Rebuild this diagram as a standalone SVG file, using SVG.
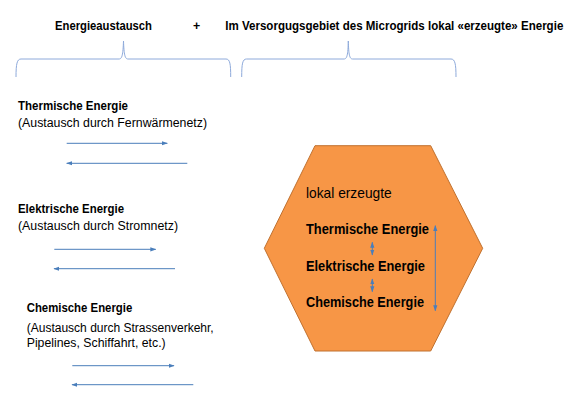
<svg xmlns="http://www.w3.org/2000/svg" width="584" height="417" viewBox="0 0 584 417">
<style>
text{font-family:"Liberation Sans",Arial,sans-serif;fill:#000}
.b{font-weight:bold}
.s{font-size:12.3px}
.h{font-size:14.3px}
.brace{fill:none;stroke:#8eaadb;stroke-width:1}
.arr{fill:none;stroke:#4a7ebb;stroke-width:1}
</style>
<defs>
<marker id="ah" viewBox="0 0 10 10" refX="9" refY="5" markerWidth="6" markerHeight="6" orient="auto-start-reverse" markerUnits="userSpaceOnUse">
<path d="M0,1.5 L10,5 L0,8.5 Z" fill="#4a7ebb"/>
</marker>
</defs>
<rect width="584" height="417" fill="#fff"/>
<g id="header">
<text class="b s" x="55" y="29.5" textLength="97" lengthAdjust="spacingAndGlyphs">Energieaustausch</text>
<text class="b s" x="193" y="29.5">+</text>
<text class="b s" x="225.3" y="29.5" textLength="338" lengthAdjust="spacingAndGlyphs">Im Versorgugsgebiet des Microgrids lokal «erzeugte» Energie</text>
</g>
<g id="braces">
<path class="brace" d="M16,77 C16,64 17,59 21,59 L119,59 C122,59 123,55 123.5,41 C124,55 125,59 128,59 L226,59 C230,59 230.7,64 230.7,77"/>
<path class="brace" d="M241.7,77 C241.7,64 242.5,59 246.5,59 L344,59 C347,59 348,55 348.3,41 C348.7,55 349.6,59 352.6,59 L451,59 C455,59 456,64 456,77"/>
</g>
<g id="thermal-exchange">
<text class="b s" x="18" y="110" textLength="110" lengthAdjust="spacingAndGlyphs">Thermische Energie</text>
<text class="s" x="18" y="126.5" textLength="189" lengthAdjust="spacingAndGlyphs">(Austausch durch Fernwärmenetz)</text>
</g>
<g id="electric-exchange">
<text class="b s" x="18" y="213.3" textLength="106" lengthAdjust="spacingAndGlyphs">Elektrische Energie</text>
<text class="s" x="18" y="229.5" textLength="160" lengthAdjust="spacingAndGlyphs">(Austausch durch Stromnetz)</text>
</g>
<g id="chemical-exchange">
<text class="b s" x="26.7" y="311.7" textLength="105.6" lengthAdjust="spacingAndGlyphs">Chemische Energie</text>
<text class="s" x="26.7" y="331.5" textLength="187" lengthAdjust="spacingAndGlyphs">(Austausch durch Strassenverkehr,</text>
<text class="s" x="26.7" y="346.5" textLength="139" lengthAdjust="spacingAndGlyphs">Pipelines, Schiffahrt, etc.)</text>
</g>
<g id="local-hexagon">
<polygon points="315,145.7 430.7,145.7 482.7,248.3 430.7,351 315,351 264.3,248.3" fill="#f79646" stroke="#c0712f" stroke-width="1"/>
<text class="h" x="306" y="197.5" textLength="85.7" lengthAdjust="spacingAndGlyphs">lokal erzeugte</text>
<text class="b h" x="306" y="234" textLength="123" lengthAdjust="spacingAndGlyphs">Thermische Energie</text>
<text class="b h" x="306" y="270.7" textLength="119" lengthAdjust="spacingAndGlyphs">Elektrische Energie</text>
<text class="b h" x="306" y="306.7" textLength="118" lengthAdjust="spacingAndGlyphs">Chemische Energie</text>
</g>
<g id="connectors">
<line class="arr" x1="66.7" y1="143.3" x2="167.3" y2="143.3" marker-end="url(#ah)"/>
<line class="arr" x1="187.3" y1="163.3" x2="66.7" y2="163.3" marker-end="url(#ah)"/>
<line class="arr" x1="54.3" y1="249.3" x2="155.7" y2="249.3" marker-end="url(#ah)"/>
<line class="arr" x1="175" y1="268.7" x2="54" y2="268.7" marker-end="url(#ah)"/>
<line class="arr" x1="72.3" y1="365.7" x2="174" y2="365.7" marker-end="url(#ah)"/>
<line class="arr" x1="193.3" y1="384.7" x2="72" y2="384.7" marker-end="url(#ah)"/>
<line class="arr" x1="372.3" y1="242.3" x2="372.3" y2="255" marker-start="url(#ah)" marker-end="url(#ah)"/>
<line class="arr" x1="372.3" y1="279" x2="372.3" y2="291.7" marker-start="url(#ah)" marker-end="url(#ah)"/>
<line class="arr" x1="435.3" y1="225.7" x2="435.3" y2="310.7" marker-start="url(#ah)" marker-end="url(#ah)"/>
</g>
</svg>
